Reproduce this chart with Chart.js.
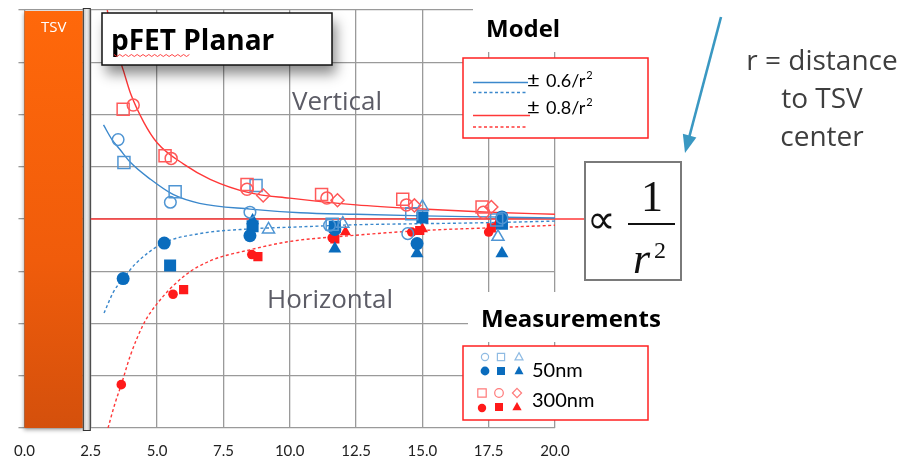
<!DOCTYPE html>
<html><head><meta charset="utf-8">
<script src="https://cdn.jsdelivr.net/npm/chart.js@4.4.1/dist/chart.umd.min.js"></script>
<style>html,body{margin:0;padding:0;background:#fff;}canvas{display:block;}</style>
</head><body>
<canvas id="c" width="902" height="469"></canvas>
<script>
// ---------- axes ----------
const xTicks = [0, 2.5, 5, 7.5, 10, 12.5, 15, 17.5, 20];
const yMin = -4, yMax = 4, yStep = 1;
const tsvEdge = 2.2;      // TSV copper edge (x units)
const linerEdge = 2.5;    // liner edge (x units)
const zeroLineEnd = 21.1; // red reference line extends past the axis

// ---------- model curves ----------
const blueSolidX = [2.98, 3.3, 3.6, 4.0, 4.75, 5.6, 6.6, 8.5, 10.4, 12.5, 15, 17.5, 20];
const blueSolidY = [1.8, 1.52, 1.33, 1.08, 0.76, 0.47, 0.3, 0.19, 0.12, 0.09, 0.06, 0.04, 0.02];
const blueDashX  = [3.0, 3.35, 3.72, 4.2, 5.2, 6.6, 8.5, 10.4, 12.5, 15, 17.5, 20];
const blueDashY  = [-1.8, -1.4, -1.14, -0.85, -0.47, -0.28, -0.19, -0.15, -0.11, -0.09, -0.07, -0.04];
const redSolidX  = [3.12, 3.4, 3.73, 4.0, 4.5, 5.0, 6.0, 7.0, 8.5, 10, 12.5, 15, 17.5, 20];
const redSolidY  = [4.0, 3.35, 2.84, 2.4, 1.85, 1.46, 1.05, 0.76, 0.5, 0.4, 0.27, 0.19, 0.13, 0.09];
const redDashX   = [3.15, 3.4, 3.65, 4.0, 4.5, 5.0, 6.0, 7.0, 8.5, 10, 12.5, 15, 17.5, 20];
const redDashY   = [-4.0, -3.55, -3.17, -2.6, -2.0, -1.62, -1.1, -0.8, -0.59, -0.43, -0.31, -0.22, -0.17, -0.12];

// ---------- measurements [x, y] ----------
const nm50OpenCircle   = [[3.53,1.52],[5.5,0.32],[8.5,0.13],[11.5,-0.12],[14.45,-0.28],[18.0,0.02]];
const nm50OpenSquare   = [[3.75,1.08],[5.68,0.52],[8.73,0.64],[11.6,-0.1],[14.6,0.1],[17.8,-0.02]];
const nm50OpenTriangle = [[9.2,-0.2],[12.0,-0.09],[15.0,0.23],[17.85,-0.34]];
const nm50FillCircle   = [[3.72,-1.14],[5.27,-0.46],[8.5,-0.32],[11.7,-0.2],[14.8,-0.47],[18.0,0.04]];
const nm50FillSquare   = [[5.49,-0.89],[8.6,-0.14],[11.7,-0.15],[15.0,0.03],[18.0,-0.09]];
const nm50FillTriangle = [[8.6,-0.03],[11.7,-0.57],[14.8,-0.66],[18.0,-0.66]];
const nm300OpenSquare  = [[3.72,2.1],[5.3,1.21],[8.39,0.66],[11.2,0.47],[14.26,0.38],[17.25,0.23]];
const nm300OpenCircle  = [[4.1,2.18],[5.53,1.16],[8.39,0.57],[11.4,0.4],[14.4,0.27],[17.3,0.13]];
const nm300OpenDiamond = [[9.0,0.45],[11.8,0.36],[14.7,0.26],[17.6,0.23]];
const nm300FillCircle  = [[3.65,-3.17],[5.6,-1.44],[8.57,-0.68],[11.6,-0.36],[14.6,-0.25],[17.5,-0.25]];
const nm300FillSquare  = [[6.0,-1.35],[8.8,-0.72],[11.7,-0.38],[14.9,-0.22],[17.6,-0.17]];
const nm300FillTriangle= [[12.1,-0.25],[15.0,-0.19],[17.85,-0.06]];

// ---------- texts ----------
const titleText = 'pFET Planar';
const regionLabels = ['Vertical', 'Horizontal'];
const modelTitle = 'Model';
const modelLabels = ['0.6/r', '0.8/r'];
const measTitle = 'Measurements';
const measLabels = ['50nm', '300nm'];
const noteLines = ['r = distance', 'to TSV', 'center'];

// ---------- colours ----------
const BLUE_FILL = '#0a6cbd', BLUE_OPEN = '#4f95d3', BLUE_LINE = '#3b88cc';
const RED_FILL = '#ff1a1a', RED_OPEN = '#ff5a5a', RED_LINE = '#ff3838';
const GRID = '#9a9a9a';
const FONT = 'Lato, "Open Sans", sans-serif';
const WFONT = '"Open Sans", Lato, sans-serif';

const pts = (xs, ys) => xs.map((v, i) => ({x: v, y: ys[i]}));
const pairs = a => a.map(p => ({x: p[0], y: p[1]}));

function curve(xs, ys, color, dashed) {
  return {data: pts(xs, ys), showLine: true, borderColor: color, borderWidth: 1.4,
    borderDash: dashed ? [3, 2.5] : [], pointRadius: 0, pointHoverRadius: 0, fill: false,
    cubicInterpolationMode: 'monotone', order: 2};
}
function marks(arr, style, r, color, filled) {
  return {data: pairs(arr), showLine: false, pointStyle: style, pointRadius: r, pointHoverRadius: r,
    pointBorderWidth: filled ? 0 : 1.5, pointBackgroundColor: filled ? color : 'rgba(255,255,255,0)',
    pointBorderColor: color, order: 1};
}

const datasets = [
  {data: [{x: linerEdge, y: 0}, {x: zeroLineEnd, y: 0}], showLine: true, borderColor: RED_LINE,
   borderWidth: 1.4, pointRadius: 0, clip: false, order: 3},
  curve(blueSolidX, blueSolidY, BLUE_LINE, false),
  curve(blueDashX, blueDashY, BLUE_LINE, true),
  curve(redSolidX, redSolidY, RED_LINE, false),
  curve(redDashX, redDashY, RED_LINE, true),
  marks(nm300OpenSquare, 'rect', 8.5, RED_OPEN, false),
  marks(nm300OpenCircle, 'circle', 6, RED_OPEN, false),
  marks(nm300OpenDiamond, 'rectRot', 6.5, RED_OPEN, false),
  marks(nm50OpenSquare, 'rect', 8.5, BLUE_OPEN, false),
  marks(nm50OpenCircle, 'circle', 5.8, BLUE_OPEN, false),
  marks(nm50OpenTriangle, 'triangle', 7, BLUE_OPEN, false),
  marks(nm50FillCircle, 'circle', 6.5, BLUE_FILL, true),
  marks(nm50FillSquare, 'rect', 8.5, BLUE_FILL, true),
  marks(nm50FillTriangle, 'triangle', 7.5, BLUE_FILL, true),
  marks(nm300FillCircle, 'circle', 4.8, RED_FILL, true),
  marks(nm300FillSquare, 'rect', 6.5, RED_FILL, true),
  marks(nm300FillTriangle, 'triangle', 6.5, RED_FILL, true),
];

function glyph(ctx, style, x, y, s, color, filled) {
  ctx.save();
  ctx.beginPath();
  if (style === 'circle') ctx.arc(x, y, s, 0, Math.PI * 2);
  else if (style === 'rect') ctx.rect(x - s, y - s, 2 * s, 2 * s);
  else if (style === 'triangle') { ctx.moveTo(x, y - s * 1.15); ctx.lineTo(x + s * 1.05, y + s * 0.75); ctx.lineTo(x - s * 1.05, y + s * 0.75); ctx.closePath(); }
  else if (style === 'diamond') { ctx.moveTo(x, y - s * 1.2); ctx.lineTo(x + s * 1.2, y); ctx.lineTo(x, y + s * 1.2); ctx.lineTo(x - s * 1.2, y); ctx.closePath(); }
  if (filled) { ctx.fillStyle = color; ctx.fill(); }
  else { ctx.strokeStyle = color; ctx.lineWidth = 1.2; ctx.stroke(); }
  ctx.restore();
}

const deco = {
  id: 'deco',
  beforeDraw(chart) {
    const ctx = chart.ctx;
    ctx.save(); ctx.fillStyle = '#fff'; ctx.fillRect(0, 0, chart.width, chart.height); ctx.restore();
  },
  beforeDatasetsDraw(chart) {
    const {ctx, scales: {x, y}} = chart;
    const x0 = x.getPixelForValue(0), x1 = x.getPixelForValue(tsvEdge), x2 = x.getPixelForValue(linerEdge);
    const yT = y.getPixelForValue(yMax), yB = y.getPixelForValue(yMin);
    ctx.save();
    // white masks behind titles / legends
    ctx.fillStyle = '#fff';
    ctx.fillRect(473, 0, 430, 52);
    ctx.fillRect(468, 292, 434, 50);
    // TSV body
    ctx.save();
    ctx.shadowColor = 'rgba(0,0,0,0.35)'; ctx.shadowBlur = 4; ctx.shadowOffsetY = 2;
    const g = ctx.createLinearGradient(0, yT, 0, yB);
    g.addColorStop(0, '#ff680a'); g.addColorStop(0.6, '#f05c0b'); g.addColorStop(1, '#d4500c');
    ctx.fillStyle = g;
    ctx.fillRect(x0, yT + 1, x1 - x0, yB - yT - 1);
    ctx.restore();
    // liner
    const lg = ctx.createLinearGradient(x1, 0, x2, 0);
    lg.addColorStop(0, '#bdbdbd'); lg.addColorStop(0.5, '#ececec'); lg.addColorStop(1, '#b0b0b0');
    ctx.fillStyle = lg;
    ctx.fillRect(x1, yT - 2, x2 - x1, yB - yT + 5);
    ctx.strokeStyle = '#333'; ctx.lineWidth = 1;
    ctx.strokeRect(x1 + 0.5, yT - 1.5, x2 - x1 - 1, yB - yT + 4);
    // TSV label
    ctx.fillStyle = '#fff'; ctx.font = '15px ' + WFONT; ctx.textAlign = 'center'; ctx.textBaseline = 'middle';
    ctx.fillText('TSV', (x0 + x1) / 2, 28);
    ctx.restore();
  },
  afterDatasetsDraw(chart) {
    const ctx = chart.ctx;
    ctx.save();
    // title box
    ctx.save();
    ctx.shadowColor = 'rgba(0,0,0,0.45)'; ctx.shadowBlur = 12; ctx.shadowOffsetX = 4; ctx.shadowOffsetY = 9;
    ctx.fillStyle = '#fff'; ctx.fillRect(102, 13, 230, 52);
    ctx.restore();
    ctx.strokeStyle = '#111'; ctx.lineWidth = 1.5; ctx.strokeRect(102, 13, 230, 52);
    ctx.fillStyle = '#000'; ctx.font = 'bold 28px ' + WFONT; ctx.textAlign = 'left'; ctx.textBaseline = 'alphabetic';
    ctx.fillText(titleText, 111, 50);
    // squiggle under "pFET"
    ctx.strokeStyle = '#ff3030'; ctx.lineWidth = 0.9; ctx.beginPath();
    for (let i = 0; i <= 26; i++) { const px = 114 + i * 2.9; const py = 55 + (i % 2 ? 1.5 : -0.5); i ? ctx.lineTo(px, py) : ctx.moveTo(px, py); }
    ctx.stroke();

    // region labels
    ctx.fillStyle = '#5c5c66'; ctx.font = '26px ' + WFONT;
    ctx.fillText(regionLabels[0], 292, 110);
    ctx.fillText(regionLabels[1], 267, 308);

    // Model legend
    ctx.fillStyle = '#000'; ctx.font = 'bold 24px ' + WFONT;
    ctx.fillText(modelTitle, 486, 37);
    ctx.fillStyle = '#fff'; ctx.fillRect(463, 58, 185, 80);
    ctx.strokeStyle = '#ff2020'; ctx.lineWidth = 1.5; ctx.strokeRect(463, 58, 185, 80);
    const seg = (y, color, dash, x2) => { ctx.save(); ctx.strokeStyle = color; ctx.lineWidth = 1.4; ctx.setLineDash(dash); ctx.beginPath(); ctx.moveTo(473, y); ctx.lineTo(x2, y); ctx.stroke(); ctx.restore(); };
    seg(82.5, BLUE_LINE, [], 528); seg(92.5, BLUE_LINE, [3, 2.5], 526);
    seg(115.5, RED_LINE, [], 530); seg(127, RED_LINE, [3, 2.5], 526);
    [[modelLabels[0], 87], [modelLabels[1], 114]].forEach(([t, by]) => {
      ctx.fillStyle = '#000'; ctx.font = '22px ' + FONT; ctx.fillText('\u00B1', 527, by);
      ctx.font = '18px ' + FONT; ctx.fillText(t, 546, by);
      const w = ctx.measureText(t).width;
      ctx.font = '11px ' + FONT; ctx.fillText('2', 547 + w, by - 8);
    });

    // Measurements legend
    ctx.fillStyle = '#000'; ctx.font = 'bold 24px ' + WFONT;
    ctx.fillText(measTitle, 481, 327);
    ctx.fillStyle = '#fff'; ctx.fillRect(463, 346, 185, 74);
    ctx.strokeStyle = '#ff2020'; ctx.lineWidth = 1.5; ctx.strokeRect(463, 346, 185, 74);
    glyph(ctx, 'circle', 485, 357, 3.6, '#8fbbe3', false);
    glyph(ctx, 'rect', 501, 357, 3.6, '#8fbbe3', false);
    glyph(ctx, 'triangle', 519, 357, 3.8, '#8fbbe3', false);
    glyph(ctx, 'circle', 485, 371, 4.4, BLUE_FILL, true);
    glyph(ctx, 'rect', 501, 371, 4, BLUE_FILL, true);
    glyph(ctx, 'triangle', 519, 371, 4.3, BLUE_FILL, true);
    glyph(ctx, 'rect', 482, 393, 4.2, '#ff7a7a', false);
    glyph(ctx, 'circle', 499, 393, 4.3, '#ff7a7a', false);
    glyph(ctx, 'diamond', 517, 393, 3.8, '#ff7a7a', false);
    glyph(ctx, 'circle', 482, 408, 4.2, RED_FILL, true);
    glyph(ctx, 'rect', 499, 407, 4, RED_FILL, true);
    glyph(ctx, 'triangle', 517, 407, 4.4, RED_FILL, true);
    ctx.fillStyle = '#000'; ctx.font = '20px ' + FONT;
    ctx.fillText(measLabels[0], 532, 377);
    ctx.fillText(measLabels[1], 532, 407);

    // formula box
    ctx.strokeStyle = '#7a7a7a'; ctx.lineWidth = 2; ctx.strokeRect(585, 162, 96, 118);
    ctx.fillStyle = '#111'; ctx.font = '40px "Liberation Serif", serif';
    ctx.fillText('\u221D', 587, 233);
    ctx.font = '44px "Liberation Serif", serif'; ctx.textAlign = 'center';
    ctx.fillText('1', 652, 211);
    ctx.fillRect(628, 223, 47, 2);
    ctx.font = 'italic 44px "Liberation Serif", serif'; ctx.textAlign = 'left';
    ctx.fillText('r', 633, 273);
    ctx.font = '24px "Liberation Serif", serif';
    ctx.fillText('2', 654, 258);

    // arrow
    const ax0 = 721, ay0 = 17, ax1 = 685, ay1 = 153;
    const ang = Math.atan2(ay1 - ay0, ax1 - ax0);
    ctx.strokeStyle = '#3a98c2'; ctx.fillStyle = '#3a98c2'; ctx.lineWidth = 2.6;
    ctx.beginPath(); ctx.moveTo(ax0, ay0);
    ctx.lineTo(ax1 - 14 * Math.cos(ang), ay1 - 14 * Math.sin(ang)); ctx.stroke();
    ctx.beginPath(); ctx.moveTo(ax1, ay1);
    ctx.lineTo(ax1 - 18 * Math.cos(ang) + 7 * Math.sin(ang), ay1 - 18 * Math.sin(ang) - 7 * Math.cos(ang));
    ctx.lineTo(ax1 - 18 * Math.cos(ang) - 7 * Math.sin(ang), ay1 - 18 * Math.sin(ang) + 7 * Math.cos(ang));
    ctx.closePath(); ctx.fill();

    // note text
    ctx.fillStyle = '#3e3e3e'; ctx.font = '28px ' + WFONT; ctx.textAlign = 'center'; ctx.textBaseline = 'middle';
    ctx.fillText(noteLines[0], 822, 62);
    ctx.fillText(noteLines[1], 822, 100);
    ctx.fillText(noteLines[2], 822, 138);
    ctx.restore();
  }
};

new Chart(document.getElementById('c'), {
  type: 'scatter',
  data: {datasets},
  plugins: [deco],
  options: {
    responsive: false, animation: false, devicePixelRatio: 1,
    layout: {padding: {left: 18, right: 347, top: 6, bottom: 0}},
    plugins: {legend: {display: false}, tooltip: {enabled: false}},
    scales: {
      x: {
        type: 'linear', min: xTicks[0], max: xTicks[xTicks.length - 1],
        afterBuildTicks: s => { s.ticks = xTicks.map(v => ({value: v})); },
        ticks: {callback: v => Number(v).toFixed(1), font: {family: FONT, size: 15}, color: '#222',
                padding: 14, maxRotation: 0, autoSkip: false},
        grid: {color: GRID, lineWidth: 1.3, drawTicks: false},
        border: {display: false},
        afterFit: s => { s.height = 41; }
      },
      y: {
        type: 'linear', min: yMin, max: yMax,
        ticks: {stepSize: yStep, display: false},
        grid: {color: GRID, lineWidth: 1.3, tickLength: 6},
        border: {display: false},
        afterFit: s => { s.width = 6; }
      }
    }
  }
});
</script>
</body></html>
